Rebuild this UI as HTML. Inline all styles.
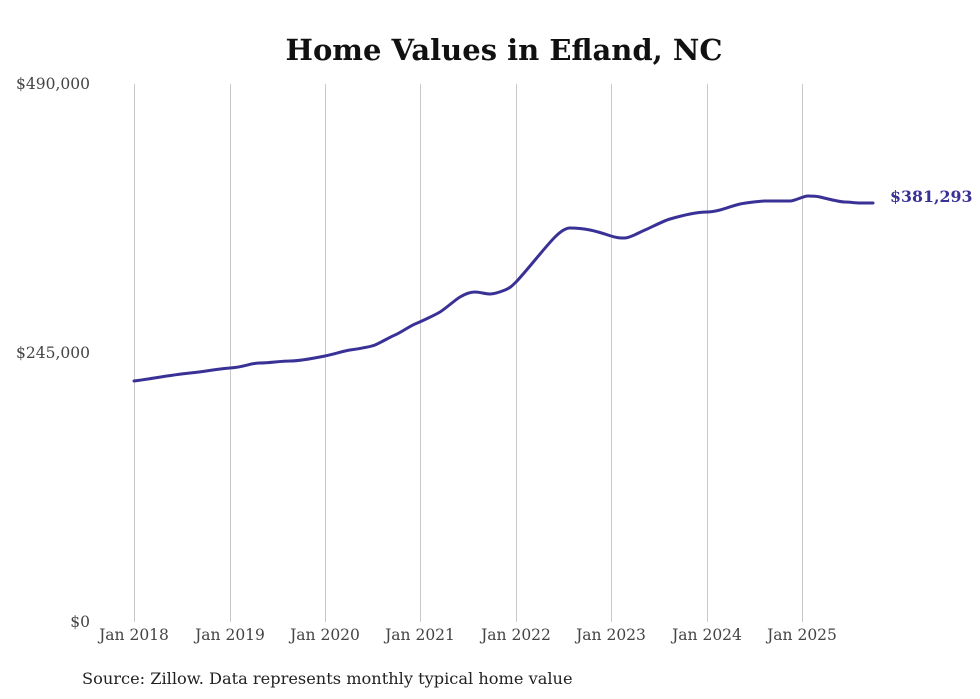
<!DOCTYPE html>
<html><head><meta charset="utf-8"><style>
html,body{margin:0;padding:0;background:#fff;}
svg{display:block;}
</style></head><body>
<svg width="980" height="699" viewBox="0 0 980 699" xmlns="http://www.w3.org/2000/svg">
<rect width="980" height="699" fill="#fff"/>
<text x="504" y="60" text-anchor="middle" font-family="DejaVu Serif, serif" font-weight="bold" font-size="29" fill="#111">Home Values in Efland, NC</text>
<g stroke="#c8c8c8" stroke-width="1">
<line x1="134.5" y1="84" x2="134.5" y2="622"/>
<line x1="230.5" y1="84" x2="230.5" y2="622"/>
<line x1="325.5" y1="84" x2="325.5" y2="622"/>
<line x1="420.5" y1="84" x2="420.5" y2="622"/>
<line x1="516.5" y1="84" x2="516.5" y2="622"/>
<line x1="611.5" y1="84" x2="611.5" y2="622"/>
<line x1="707.5" y1="84" x2="707.5" y2="622"/>
<line x1="802.5" y1="84" x2="802.5" y2="622"/>
</g>
<g font-family="DejaVu Serif, serif" font-size="15.5" fill="#444">
<text x="90" y="89" text-anchor="end">$490,000</text>
<text x="90" y="358" text-anchor="end">$245,000</text>
<text x="90" y="627" text-anchor="end">$0</text>
<g text-anchor="middle">
<text x="134" y="640">Jan 2018</text>
<text x="230" y="640">Jan 2019</text>
<text x="325" y="640">Jan 2020</text>
<text x="420" y="640">Jan 2021</text>
<text x="516" y="640">Jan 2022</text>
<text x="611" y="640">Jan 2023</text>
<text x="707" y="640">Jan 2024</text>
<text x="802" y="640">Jan 2025</text>
</g>
</g>
<path fill="none" stroke="#3a3196" stroke-width="3" stroke-linejoin="round" stroke-linecap="round"
d="M134,381 C150,379 170,375 190,373 S215,369 230,368 S250,363 260,363 S280,361 290,361 S315,358 325,356 S343,351 350,350 S370,347 375,345 S390,337 395,335 S410,326 415,324 S435,315 440,312 S455,300 460,297 S470,292 475,292 S485,294 490,294 S500,292 505,290 S512,286 516,282 S530,266 535,260 S550,242 555,237 S565,228 570,228 S585,229 590,230 S605,234 611,236 S620,238 625,238 S640,232 645,230 S663,221 670,219 S685,215 690,214 S703,212 707,212 S716,211 720,210 S735,205 740,204 S760,201 765,201 S785,201 790,201 S803,196 808,196 S816,196 820,197 S840,202 845,202 S855,203 860,203 L873,203"/>
<text x="890" y="202" font-family="DejaVu Serif, serif" font-weight="bold" font-size="15.8" fill="#3a3196">$381,293</text>
<text x="82" y="684" font-family="DejaVu Serif, serif" font-size="16.2" fill="#222">Source: Zillow. Data represents monthly typical home value</text>
</svg>
</body></html>
